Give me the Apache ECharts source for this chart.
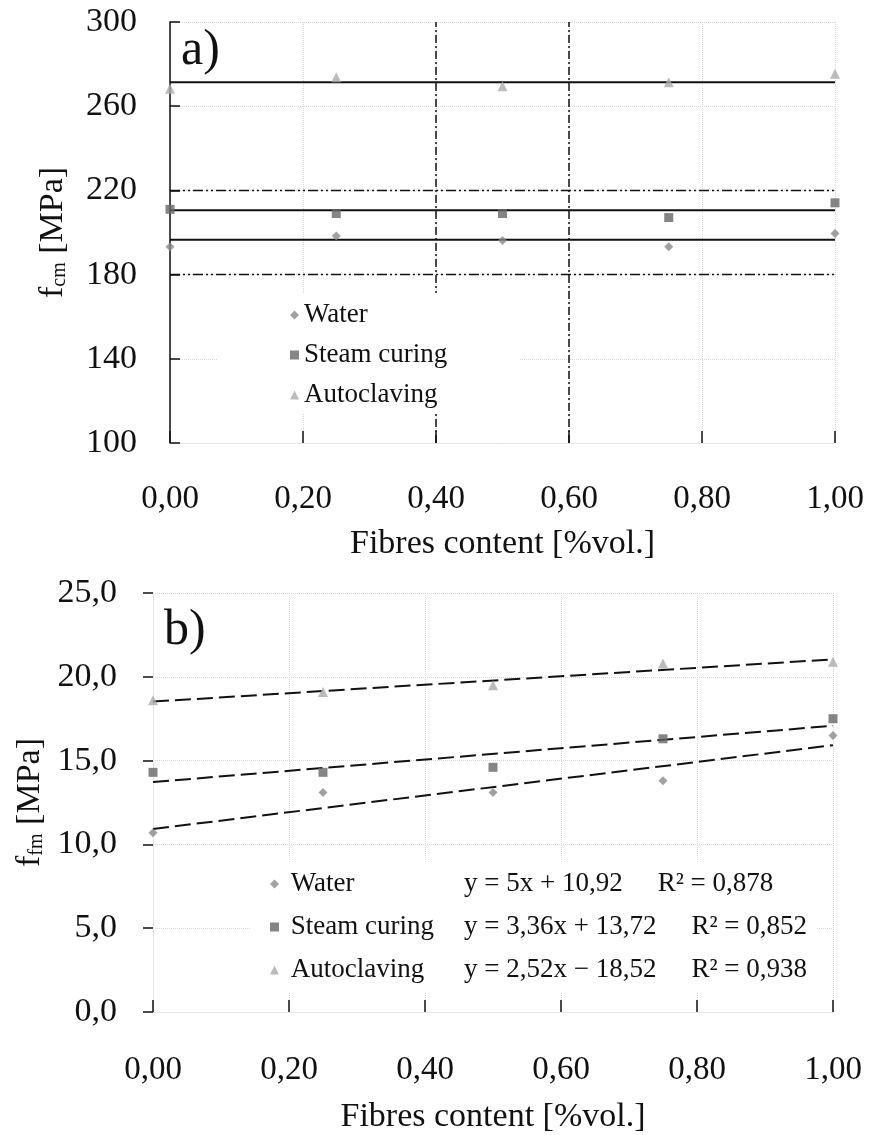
<!DOCTYPE html>
<html>
<head>
<meta charset="utf-8">
<script src="https://cdn.jsdelivr.net/npm/echarts@6/dist/echarts.min.js"></script>
<style>
    html, body { margin: 0; padding: 0; background: #fff; }
    #main { width: 872px; height: 1135px; }
</style>
</head>
<body>
<div id="main"></div>
<script>
// fibres content [%vol.]
var fibres = [0, 0.25, 0.5, 0.75, 1.0];

// a) compressive strength f_cm [MPa]
var cmWater = [193.2, 198.3, 196.2, 193.2, 199.5];
var cmSteam = [211.0, 209.0, 209.0, 207.1, 214.1];
var cmAuto = [268.3, 273.8, 269.5, 271.4, 275.4];
var cmMeans = [196.5, 210.6, 271.4];
var cmLimits = [180, 220];
var fibreLimits = [0.4, 0.6];

// b) flexural strength f_fm [MPa]
var fmWater = [10.7, 13.1, 13.1, 13.8, 16.5];
var fmSteam = [14.3, 14.3, 14.6, 16.3, 17.5];
var fmAuto = [18.6, 19.1, 19.5, 20.8, 20.9];

// trend lines (from the legend)
var trendSlope = [5, 3.36, 2.52];
var trendIntercept = [10.92, 13.72, 18.52];
var trendEq = ['y = 5x + 10,92', 'y = 3,36x + 13,72', 'y = 2,52x − 18,52'];
var trendR2 = ['R² = 0,878', 'R² = 0,852', 'R² = 0,938'];

var names = ['Water', 'Steam curing', 'Autoclaving'];
var symbols = ['diamond', 'rect', 'triangle'];
var colors = ['#8a8a8a', '#666666', '#ababab'];
var sizes = [9, 9, 10];

var FONT = 'Liberation Serif';

function pairs(ys) {
    return fibres.map(function (x, i) { return [x, ys[i]]; });
}
function comma(v, d) {
    return v.toFixed(d).replace('.', ',');
}

var myChart = echarts.init(document.getElementById('main'));

var series = [];

// a) scatter points
[cmWater, cmSteam, cmAuto].forEach(function (ys, i) {
    series.push({
        name: names[i], type: 'scatter', xAxisIndex: 0, yAxisIndex: 0,
        symbol: symbols[i], symbolSize: sizes[i],
        itemStyle: {color: colors[i]}, data: pairs(ys), z: 5
    });
});
// a) mean lines
cmMeans.forEach(function (m) {
    series.push({
        type: 'line', xAxisIndex: 0, yAxisIndex: 0, silent: true, symbol: 'none',
        lineStyle: {color: '#111', width: 2}, data: [[0, m], [1, m]], z: 3
    });
});
// a) limit lines
cmLimits.forEach(function (m) {
    series.push({
        type: 'line', xAxisIndex: 0, yAxisIndex: 0, silent: true, symbol: 'none',
        lineStyle: {color: '#111', width: 1.5, type: [10, 3, 2, 3, 2, 3]},
        data: [[0, m], [1, m]], z: 3
    });
});
fibreLimits.forEach(function (x) {
    series.push({
        type: 'line', xAxisIndex: 0, yAxisIndex: 0, silent: true, symbol: 'none',
        lineStyle: {color: '#111', width: 1.5, type: [8, 3, 2, 3]},
        data: [[x, 100], [x, 300]], z: 3
    });
});

// b) scatter points + trend lines
[fmWater, fmSteam, fmAuto].forEach(function (ys, i) {
    series.push({
        name: names[i], type: 'scatter', xAxisIndex: 1, yAxisIndex: 1,
        symbol: symbols[i], symbolSize: sizes[i],
        itemStyle: {color: colors[i]}, data: pairs(ys), z: 5
    });
    series.push({
        type: 'line', xAxisIndex: 1, yAxisIndex: 1, silent: true, symbol: 'none',
        lineStyle: {color: '#111', width: 2, type: [16, 6]},
        data: [[0, trendIntercept[i]], [1, trendSlope[i] + trendIntercept[i]]], z: 3
    });
});

var gridLine = {show: true, lineStyle: {color: '#d8d8d8', type: 'dotted', width: 1}};

var option = {
    backgroundColor: '#fff',
    animation: false,
    textStyle: {fontFamily: FONT},
    grid: [
        {left: 170, right: 37, top: 22, height: 421},
        {left: 153, right: 39, top: 593, height: 419}
    ],
    xAxis: [
        {
            type: 'value', gridIndex: 0, min: 0, max: 1, interval: 0.2,
            name: 'Fibres content [%vol.]', nameLocation: 'middle', nameGap: 84,
            nameTextStyle: {fontFamily: FONT, fontSize: 34, color: '#111'},
            axisLine: {lineStyle: {color: '#e6e6e6'}},
            axisTick: {inside: true, length: 12, lineStyle: {color: '#111', width: 1.5}},
            axisLabel: {
                margin: 40, fontFamily: FONT, fontSize: 33, color: '#111',
                formatter: function (v) { return comma(v, 2); }
            },
            splitLine: gridLine
        },
        {
            type: 'value', gridIndex: 1, min: 0, max: 1, interval: 0.2,
            name: 'Fibres content [%vol.]', nameLocation: 'middle', nameGap: 88,
            nameTextStyle: {fontFamily: FONT, fontSize: 34, color: '#111'},
            axisLine: {lineStyle: {color: '#e6e6e6'}},
            axisTick: {inside: true, length: 12, lineStyle: {color: '#111', width: 1.5}},
            axisLabel: {
                margin: 42, fontFamily: FONT, fontSize: 33, color: '#111',
                formatter: function (v) { return comma(v, 2); }
            },
            splitLine: gridLine
        }
    ],
    yAxis: [
        {
            type: 'value', gridIndex: 0, min: 100, max: 300, interval: 40,
            name: '{f|f}{s|cm}{f| [MPa]}', nameLocation: 'middle', nameGap: 100,
            nameTextStyle: {
                rich: {
                    f: {fontFamily: FONT, fontSize: 34, color: '#111'},
                    s: {fontFamily: FONT, fontSize: 20, color: '#111', padding: [14, 0, 0, 0]}
                }
            },
            axisLine: {show: true, lineStyle: {color: '#111', width: 1.5}},
            axisTick: {inside: true, length: 10, lineStyle: {color: '#111', width: 1.5}},
            axisLabel: {margin: 33, fontFamily: FONT, fontSize: 34, color: '#111'},
            splitLine: gridLine
        },
        {
            type: 'value', gridIndex: 1, min: 0, max: 25, interval: 5,
            name: '{f|f}{s|fm}{f| [MPa]}', nameLocation: 'middle', nameGap: 100,
            nameTextStyle: {
                rich: {
                    f: {fontFamily: FONT, fontSize: 34, color: '#111'},
                    s: {fontFamily: FONT, fontSize: 20, color: '#111', padding: [14, 0, 0, 0]}
                }
            },
            axisLine: {show: true, lineStyle: {color: '#e6e6e6'}},
            axisTick: {inside: false, length: 10, lineStyle: {color: '#111', width: 1.5}},
            axisLabel: {
                margin: 36, fontFamily: FONT, fontSize: 34, color: '#111',
                formatter: function (v) { return comma(v, 1); }
            },
            splitLine: gridLine
        }
    ],
    legend: [
        {
            orient: 'vertical', left: 217, top: 293,
            padding: [7, 72, 3, 73], backgroundColor: '#fff',
            itemWidth: 9, itemHeight: 9, itemGap: 10,
            selectedMode: false,
            textStyle: {fontFamily: FONT, fontSize: 27, color: '#111', lineHeight: 30},
            data: names.map(function (n, i) { return {name: n, icon: symbols[i]}; })
        },
        {
            orient: 'vertical', left: 250, top: 862,
            padding: [6, 10, 6, 20], backgroundColor: '#fff',
            itemWidth: 9, itemHeight: 9, itemGap: 11,
            selectedMode: false,
            formatter: function (n) {
                var i = names.indexOf(n);
                return '{n| ' + n + '}{e|' + trendEq[i] + '}{r|' + trendR2[i] + '}';
            },
            textStyle: {
                fontFamily: FONT, fontSize: 27, color: '#111', lineHeight: 32,
                rich: {
                    n: {fontFamily: FONT, fontSize: 27, color: '#111', width: 180},
                    e: {fontFamily: FONT, fontSize: 27, color: '#111'},
                    r: {fontFamily: FONT, fontSize: 27, color: '#111', padding: [0, 0, 0, 35]}
                }
            },
            data: names.map(function (n, i) { return {name: n, icon: symbols[i]}; })
        }
    ],
    graphic: [
        {type: 'text', left: 181, top: 26, z: 10,
            style: {text: 'a)', font: '50px "Liberation Serif"', fill: '#111'}},
        {type: 'text', left: 164, top: 606, z: 10,
            style: {text: 'b)', font: '50px "Liberation Serif"', fill: '#111'}}
    ],
    series: series
};

myChart.setOption(option);
</script>
</body>
</html>
